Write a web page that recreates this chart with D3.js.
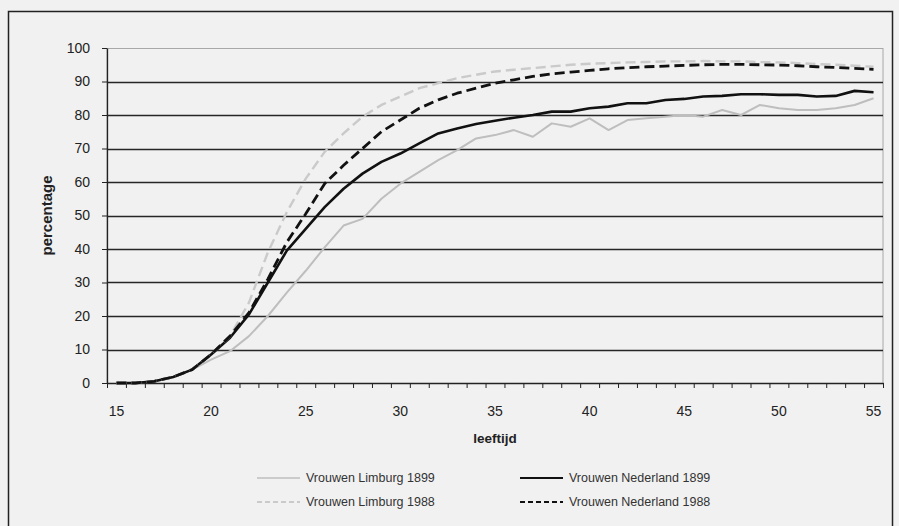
<!DOCTYPE html>
<html lang="nl">
<head>
<meta charset="utf-8">
<title>Percentage vrouwen naar leeftijd</title>
<script src="https://d3js.org/d3.v7.min.js"></script>
<style>
  body { margin: 0; background: #f1f1f1; }
  text { font-family: 'Liberation Sans', Arial, sans-serif; fill: #222; }
  .tick-label { font-size: 14px; }
  .axis-title { font-size: 13.5px; font-weight: bold; }
  .legend-label { font-size: 12.5px; fill: #333; }
</style>
</head>
<body>
<div id="chart"></div>
<script>
// leeftijden 15 t/m 55
var ages = d3.range(15, 56);

var limburg1899 = [0, 0, 0.5, 1.8, 4, 7, 9.5, 14, 20, 27, 33.5, 40.5, 47, 49, 55, 59.5, 63, 66.5, 69.5, 73,
  74, 75.5, 73.5, 77.5, 76.5, 79, 75.5, 78.5, 79, 79.5, 80, 79.5, 81.5, 80, 83, 82, 81.5, 81.5, 82, 83, 85];
var nederland1899 = [0, 0, 0.5, 1.8, 4, 8.5, 13.5, 20.5, 30, 39.5, 46, 52.5, 58, 62.5, 66, 68.5, 71.5, 74.5, 76, 77.3,
  78.3, 79.2, 80, 81, 81, 82, 82.5, 83.5, 83.5, 84.5, 84.8, 85.5, 85.7, 86.2, 86.2, 86, 86, 85.5, 85.7, 87.2, 86.8];
var limburg1988 = [0, 0, 0.5, 1.8, 4, 8.5, 14, 24, 39, 51, 61, 69, 74.5, 79.5, 83, 85.5, 88, 89.5, 91, 92,
  93, 93.5, 94, 94.5, 95, 95.3, 95.5, 95.7, 95.8, 96, 96, 96.1, 96, 96, 95.8, 95.7, 95.5, 95.2, 95, 94.7, 94.4];
var nederland1988 = [0, 0, 0.5, 1.8, 4, 8.5, 14, 21, 31, 42, 50.5, 59.5, 65, 70, 75, 78.5, 82, 84.5, 86.5, 88,
  89.5, 90.5, 91.5, 92.3, 92.8, 93.3, 93.8, 94.1, 94.4, 94.6, 94.8, 95, 95.1, 95.1, 95, 94.9, 94.7, 94.4, 94.2, 93.9, 93.6];

var xLabels = [15, 20, 25, 30, 35, 40, 45, 50, 55];
var yTicks = [0, 10, 20, 30, 40, 50, 60, 70, 80, 90, 100];

var series = [
  { name: "Vrouwen Limburg 1899", values: limburg1899, color: "#bebebe", dash: null, width: 2 },
  { name: "Vrouwen Nederland 1899", values: nederland1899, color: "#111", dash: null, width: 2.6 },
  { name: "Vrouwen Limburg 1988", values: limburg1988, color: "#cacaca", dash: "10,5", width: 2.4 },
  { name: "Vrouwen Nederland 1988", values: nederland1988, color: "#111", dash: "10,5", width: 2.8 }
];

var width = 899, height = 526;
var plotLeft = 107, plotRight = 883, plotTop = 48, plotBottom = 383;

var svg = d3.select("#chart").append("svg")
    .attr("width", width)
    .attr("height", height);

// kader om de hele grafiek
svg.append("rect")
    .attr("x", 8.5).attr("y", 11.5)
    .attr("width", 884).attr("height", 540)
    .attr("fill", "#f1f1f1")
    .attr("stroke", "#222")
    .attr("stroke-width", 1.5);

// categorie-as: punten in het midden van elke categorie
var x = d3.scaleLinear().domain([14.5, 55.5]).range([plotLeft, plotRight]);
var y = d3.scaleLinear().domain([0, 100]).range([plotBottom, plotTop]);

// plotvlak
svg.append("rect")
    .attr("x", plotLeft).attr("y", plotTop + 0.5)
    .attr("width", plotRight - plotLeft).attr("height", plotBottom - plotTop)
    .attr("fill", "none")
    .attr("stroke", "#a8a8a8")
    .attr("stroke-width", 1);

// rasterlijnen
svg.append("g")
  .selectAll("line")
  .data(yTicks.filter(d => d > 0 && d < 100))
  .enter().append("line")
    .attr("x1", plotLeft).attr("x2", plotRight)
    .attr("y1", d => Math.round(y(d)) + 0.5)
    .attr("y2", d => Math.round(y(d)) + 0.5)
    .attr("stroke", "#262626")
    .attr("stroke-width", 1.4);

// y-as
var yAxis = svg.append("g")
    .attr("transform", "translate(" + plotLeft + ",0)")
    .call(d3.axisLeft(y).tickValues(yTicks).tickSize(5).tickPadding(12).tickSizeOuter(0));
yAxis.select(".domain").attr("stroke", "#222").attr("stroke-width", 1.3);
yAxis.selectAll(".tick line").attr("stroke", "#222");
yAxis.selectAll(".tick text").attr("class", "tick-label").attr("fill", "#222");
yAxis.attr("font-family", null).attr("font-size", null);

// x-as met streepjes op de categoriegrenzen
var xAxis = svg.append("g")
    .attr("transform", "translate(0," + plotBottom + ")")
    .call(d3.axisBottom(x).tickValues(d3.range(14.5, 56, 1)).tickFormat("").tickSize(5).tickSizeOuter(0));
xAxis.select(".domain").attr("stroke", "#222").attr("stroke-width", 1.3);
xAxis.selectAll(".tick line").attr("stroke", "#222");

svg.append("g")
  .selectAll("text")
  .data(xLabels)
  .enter().append("text")
    .attr("class", "tick-label")
    .attr("x", d => x(d))
    .attr("y", 416)
    .attr("text-anchor", "middle")
    .text(d => d);

// astitels
svg.append("text")
    .attr("class", "axis-title")
    .attr("x", (plotLeft + plotRight) / 2)
    .attr("y", 443)
    .attr("text-anchor", "middle")
    .text("leeftijd");

svg.append("text")
    .attr("class", "axis-title")
    .style("font-size", "15px")
    .attr("transform", "translate(52," + (plotTop + plotBottom) / 2 + ") rotate(-90)")
    .attr("text-anchor", "middle")
    .text("percentage");

// lijnen
var line = d3.line()
    .x((d, i) => x(ages[i]))
    .y(d => y(d));

svg.append("g")
  .selectAll("path")
  .data(series)
  .enter().append("path")
    .attr("d", d => line(d.values))
    .attr("fill", "none")
    .attr("stroke", d => d.color)
    .attr("stroke-width", d => d.width)
    .attr("stroke-dasharray", d => d.dash)
    .attr("stroke-linejoin", "round");

// legenda
var legendPos = [[257, 478], [520, 478], [257, 502], [520, 502]];
var legend = svg.append("g")
  .selectAll("g")
  .data(series)
  .enter().append("g")
    .attr("transform", (d, i) => "translate(" + legendPos[i][0] + "," + legendPos[i][1] + ")");

legend.append("line")
    .attr("x1", 0).attr("x2", 43)
    .attr("stroke", d => d.color)
    .attr("stroke-width", d => d.width - 0.6)
    .attr("stroke-dasharray", d => d.dash ? "5,3" : null);

legend.append("text")
    .attr("class", "legend-label")
    .attr("x", 49)
    .attr("dy", "0.35em")
    .text(d => d.name);
</script>
</body>
</html>
